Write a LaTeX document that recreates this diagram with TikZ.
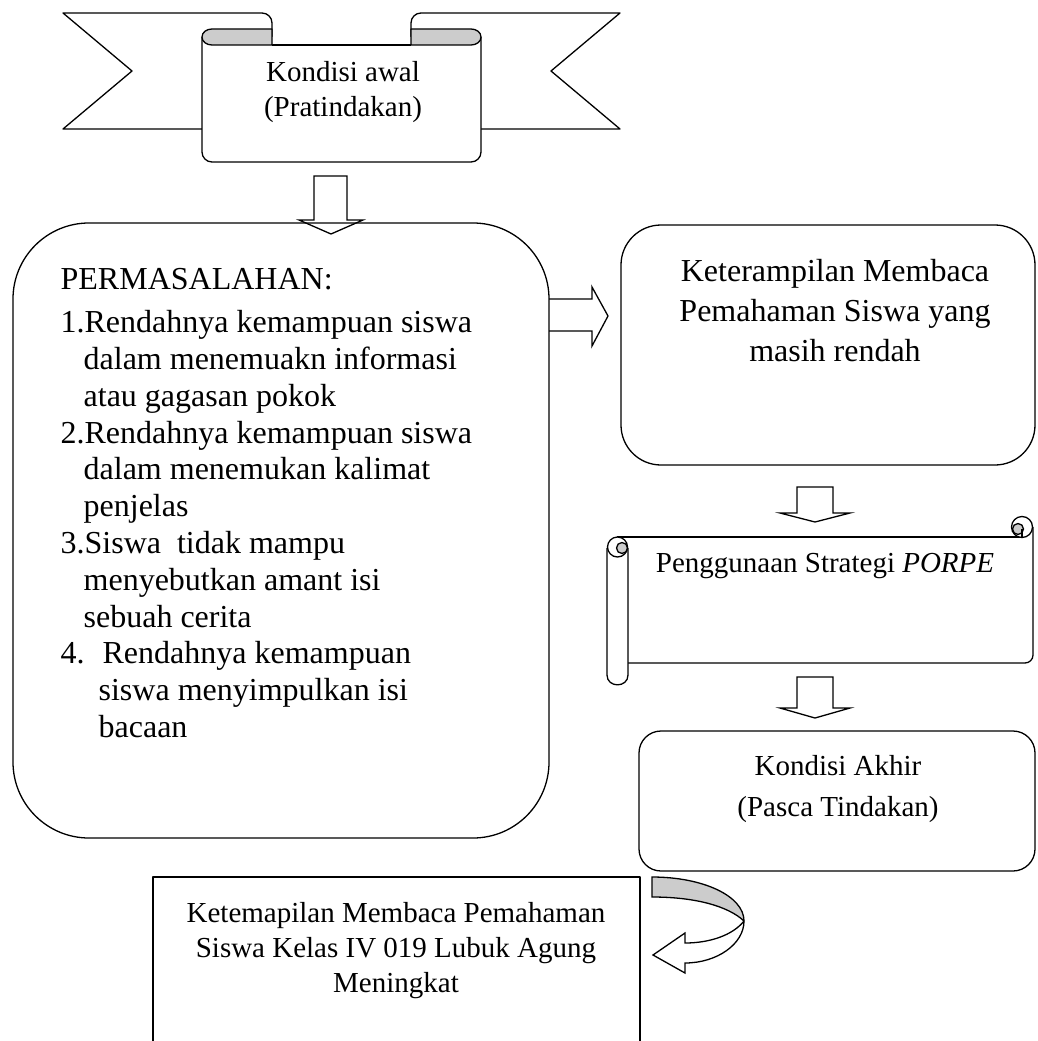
\documentclass[tikz,border=0pt]{standalone}
\usepackage{fontspec}
\setmainfont{Liberation Serif}
\usepackage{tikz}
\definecolor{curlgray}{gray}{0.8}

\begin{document}
\begin{tikzpicture}[x=1pt, y=-1pt, line width=1.3pt, line join=round,
		box/.style={draw, inner sep=0pt},
		txt/.style={align=center, inner sep=0pt, font=\fontsize{29}{35}\selectfont},
		blockarrow/.style={draw, line join=miter},
		fold/.style={draw, fill=curlgray}]
	\useasboundingbox (0,0) rectangle (1038,1041);
	
	% Ribbon tails
	\draw (202,129) -- (63,129) -- (132,71) -- (63,13) -- (262,13) to[out=0,in=90] (272,23) -- (272,45);
	\draw (481,129) -- (620,129) -- (551,71) -- (620,13) -- (421,13) to[out=180,in=90] (411,23) -- (411,45);
	
	% Ribbon panel
	\draw[fill=white, rounded corners=10pt] (202,37) -- (202,162) -- (481,162) -- (481,37);
	\draw (272,45) -- (411,45);
	\draw[fold] (272,29) -- (212,29) to[out=180,in=90] (202,37) to[out=-90,in=180] (212,45) -- (272,45) -- cycle;
	\draw[fold] (411,29) -- (471,29) to[out=0,in=90] (481,37) to[out=-90,in=0] (471,45) -- (411,45) -- cycle;
	\node[txt] (awal) at (343,92) {Kondisi awal\\(Pratindakan)};
	
	% Boxes
	\node[box, rounded corners=76pt, minimum width=536pt, minimum height=615pt] (probbox) at (281,530.5) {};
	\node[box, rounded corners=40pt, minimum width=414pt, minimum height=240pt] (skillbox) at (828,345) {};
	\node[box, rounded corners=22pt, minimum width=396pt, minimum height=140pt] (akhirbox) at (837,801) {};
	\draw (153,1041) -- (153,877) -- (640,877) -- (640,1041);
	
	% Scroll
	\draw (628,663) -- (1025,663) to[out=0,in=-90] (1033,655) -- (1033,527);
	\draw (617,537) -- (1022,537);
	\draw[fill=white] (1022,527) circle (10.5pt);
	\draw[fold] (1018,529) circle (5.5pt);
	\draw (1022,529) -- (1022,537);
	\draw[fill=white] (607,548) -- (607,675) to[out=-90,in=-90,looseness=1.6] (628,675) -- (628,548);
	\draw[fill=white] (617.5,547) circle (10pt);
	\draw[fold] (622,548) circle (5.5pt);
	
	% Texts
	\node[txt, align=left, anchor=north west, font=\fontsize{32}{36.8}\selectfont] (masalah) at (60,268) {PERMASALAHAN:\\[6pt]
		1.Rendahnya kemampuan siswa\\
		\hspace*{23pt}dalam menemuakn informasi\\
		\hspace*{23pt}atau gagasan pokok\\
		2.Rendahnya kemampuan siswa\\
		\hspace*{23pt}dalam menemukan kalimat\\
		\hspace*{23pt}penjelas\\
		3.Siswa\ \ tidak mampu\\
		\hspace*{23pt}menyebutkan amant isi\\
		\hspace*{23pt}sebuah cerita\\
		4.\hspace*{18pt}Rendahnya kemampuan\\
		\hspace*{38pt}siswa menyimpulkan isi\\
		\hspace*{38pt}bacaan};
	\node[txt, font=\fontsize{32}{40}\selectfont] (skill) at (835,311) {Keterampilan Membaca\\Pemahaman Siswa yang\\masih rendah};
	\node[txt] (porpe) at (825,566) {Penggunaan Strategi \textit{PORPE}};
	\node[txt, font=\fontsize{29}{41}\selectfont] (akhir) at (838,789) {Kondisi Akhir\\(Pasca Tindakan)};
	\node[txt] (hasil) at (396,951) {Ketemapilan Membaca Pemahaman\\Siswa Kelas IV 019 Lubuk Agung\\Meningkat};
	
	% Block arrows
	\draw[blockarrow] (314,176) -- (347,176) -- (347,220) -- (363,220) -- (331,234) -- (299,220) -- (314,220) -- cycle;
	\draw[blockarrow] (549,299) -- (592,299) -- (592,287) -- (608,316) -- (592,346) -- (592,331) -- (549,331);
	\draw[blockarrow] (797,487) -- (833,487) -- (833,513) -- (850,513) -- (815,522) -- (780,513) -- (797,513) -- cycle;
	\draw[blockarrow] (797,677) -- (833,677) -- (833,708) -- (850,708) -- (815,718) -- (780,708) -- (797,708) -- cycle;
	
	% Curved arrow
	\fill[curlgray] (652,877) .. controls (703,877) and (744,896) .. (744,921) .. controls (728,906) and (695,897) .. (652,897) -- cycle;
	\draw[blockarrow] (652,877) .. controls (703,877) and (744,896) .. (744,921)
		.. controls (744,944) and (717,963) .. (685,963) -- (685,973) -- (653,955) -- (685,933) -- (685,943)
		.. controls (710,943) and (733,935) .. (744,921)
		.. controls (728,906) and (695,897) .. (652,897) -- cycle;
	
\end{tikzpicture}
\end{document}
